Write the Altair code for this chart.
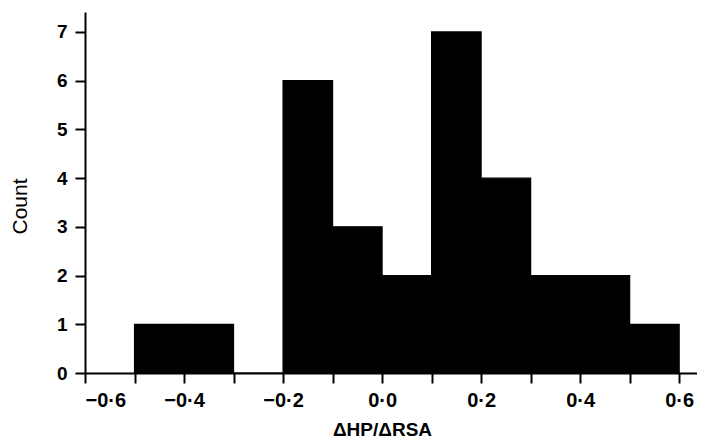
import altair as alt
import pandas as pd

bin_start = [-0.5, -0.4, -0.3, -0.2, -0.1, 0.0, 0.1, 0.2, 0.3, 0.4, 0.5]
bin_end = [-0.4, -0.3, -0.2, -0.1, 0.0, 0.1, 0.2, 0.3, 0.4, 0.5, 0.6]
counts = [1, 1, 0, 6, 3, 2, 7, 4, 2, 2, 1]
x_ticks = [-0.6, -0.5, -0.4, -0.3, -0.2, -0.1, 0.0, 0.1, 0.2, 0.3, 0.4, 0.5, 0.6]
y_ticks = [0, 1, 2, 3, 4, 5, 6, 7]

df = pd.DataFrame({"start": bin_start, "end": bin_end, "count": counts})

FONT = "Liberation Sans"

label_expr = (
    "(round(datum.value*10) % 2 == 0) ? "
    "replace(replace(format(datum.value, '.1f'), '.', '·'), '-', '–') : ''"
)

chart = alt.Chart(df).mark_rect(color="black", stroke="black", strokeWidth=1.2).encode(
    x=alt.X(
        "start:Q",
        scale=alt.Scale(domain=[-0.6, 0.636], nice=False, zero=False),
        axis=alt.Axis(
            title="ΔHP/ΔRSA",
            values=x_ticks,
            labelExpr=label_expr,
            grid=False,
            tickSize=10,
            tickWidth=2,
            domainWidth=2,
            labelPadding=7,
            labelFontSize=20,
            labelFontWeight="bold",
            labelFont=FONT,
            titleFont=FONT,
            titleFontSize=19,
            titleFontWeight="bold",
            titleX=297,
            titleY=62,
            titleAnchor="middle",
            titleBaseline="alphabetic",
            labelColor="black",
            titleColor="black",
            domainColor="black",
            tickColor="black",
        ),
    ),
    x2="end:Q",
    y=alt.Y(
        "count:Q",
        scale=alt.Scale(domain=[0, 7.41], nice=False),
        axis=alt.Axis(
            title="Count",
            values=y_ticks,
            format="d",
            grid=False,
            tickSize=10,
            tickWidth=2,
            domainWidth=2,
            labelPadding=8,
            labelFontSize=19,
            labelFontWeight="bold",
            labelFont=FONT,
            titleFont=FONT,
            titleFontSize=21,
            titleFontWeight="normal",
            titleX=-65,
            titleY=194,
            titleAnchor="middle",
            titleBaseline="middle",
            titleAngle=270,
            labelColor="black",
            titleColor="black",
            domainColor="black",
            tickColor="black",
        ),
    ),
    y2=alt.Y2(datum=0),
).properties(
    width=612,
    height=361,
    autosize=alt.AutoSizeParams(type="none"),
    padding={"left": 77, "top": 4, "right": 0, "bottom": 70},
    background="white",
).configure_view(stroke=None)

chart.save("out.html", embed_options={"renderer": "svg", "actions": False})
